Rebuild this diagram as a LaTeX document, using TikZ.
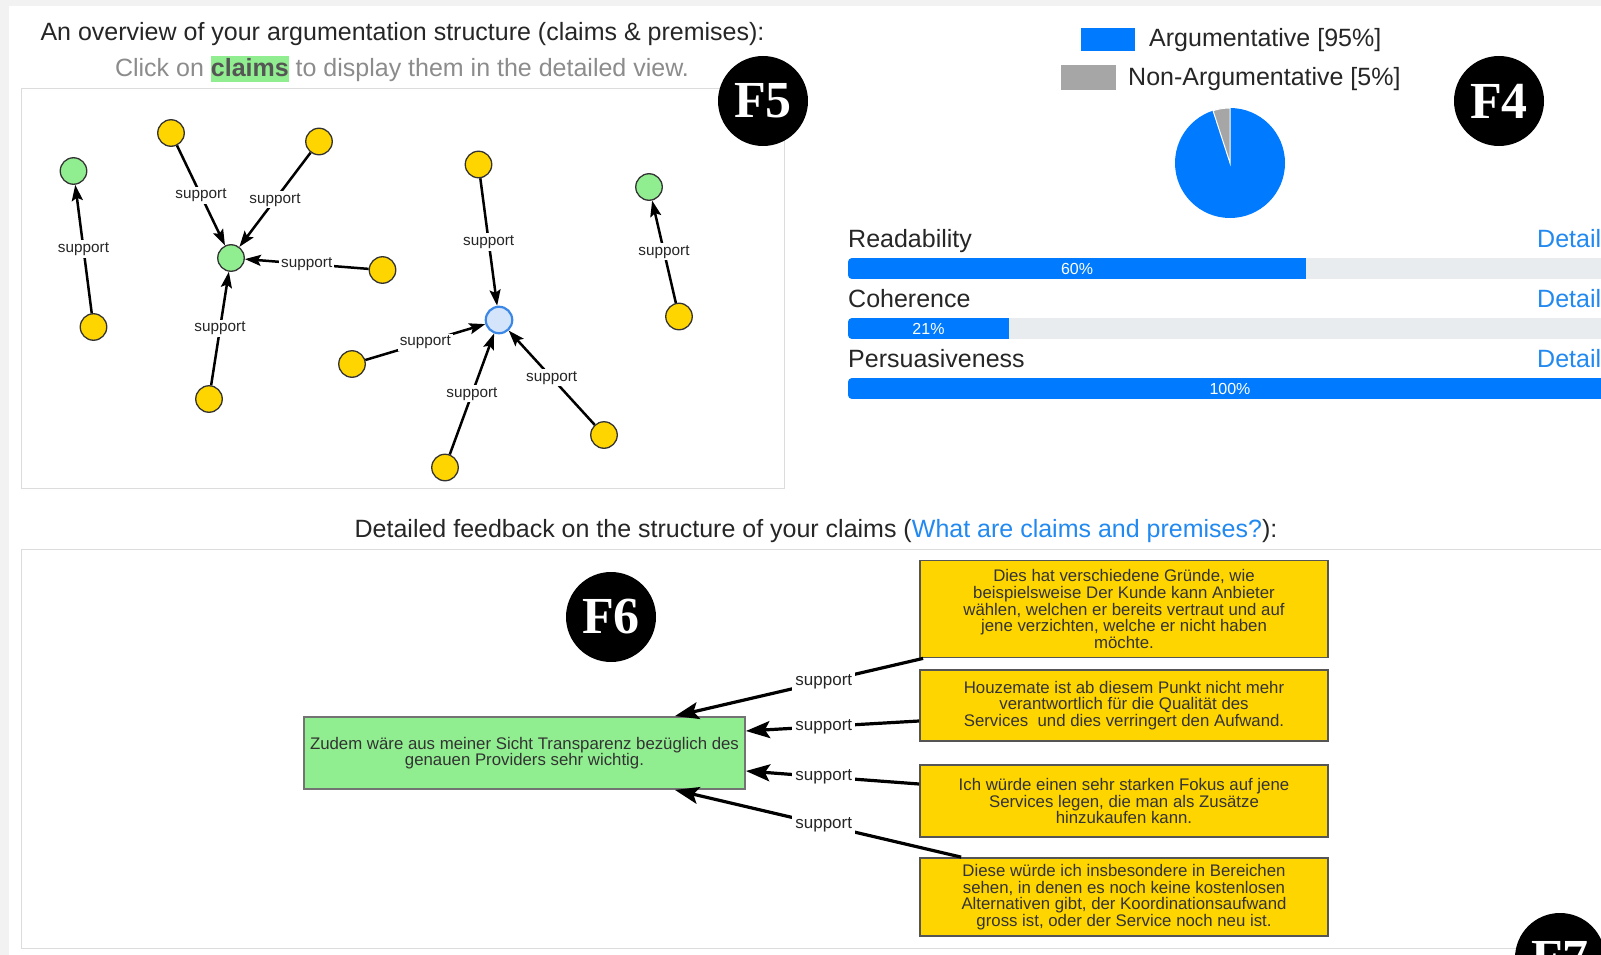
\documentclass[tikz,border=0pt]{standalone}
\usepackage{fontspec}
\setmainfont{Liberation Sans}
\newfontfamily\badgefont{Liberation Serif}
\usetikzlibrary{arrows.meta}

\definecolor{pagegray}{HTML}{F2F2F2}
\definecolor{framegray}{HTML}{DCDCDC}
\definecolor{claimgreen}{HTML}{90EE90}
\definecolor{premisegold}{HTML}{FFD500}
\definecolor{barblue}{HTML}{007BFF}
\definecolor{linkblue}{HTML}{2189F0}
\definecolor{trackgray}{HTML}{E9ECEF}
\definecolor{textdark}{HTML}{262626}
\definecolor{mutedgray}{HTML}{8C8C8C}
\definecolor{focusfill}{HTML}{D4E5FB}
\definecolor{focusedge}{HTML}{3B87E6}
\definecolor{slicegray}{HTML}{A6A6A6}
\definecolor{boxedge}{HTML}{555555}
\definecolor{boxtext}{HTML}{333333}

\begin{document}
\begin{tikzpicture}[x=1pt,y=-1pt,
  heading/.style={anchor=base, inner sep=0pt, text=textdark, font=\fontsize{25}{30}\selectfont},
  badge/.style={circle, fill=black, minimum size=90pt, inner sep=0pt, text=white,
    font=\badgefont\bfseries\fontsize{52}{52}\selectfont},
  premise/.style={circle, draw=black!80, line width=1.3pt, fill=premisegold,
    minimum size=26.5pt, inner sep=0pt},
  claim/.style={premise, fill=claimgreen},
  focus/.style={premise, draw=focusedge, line width=2.2pt, fill=focusfill},
  link/.style={draw=black, line width=2.5pt, -{Stealth[length=16pt,width=11pt,inset=3pt]}},
  linklabel/.style={fill=white, inner sep=2pt, text=textdark, font=\fontsize{15.3}{16}\selectfont},
  reason/.style={rectangle, draw=boxedge, line width=1.8pt, fill=premisegold, text=boxtext,
    align=center, minimum width=408pt, inner sep=0pt, font=\fontsize{16.8}{16.6}\selectfont},
  thesis/.style={reason, fill=claimgreen, draw=black!55, minimum width=441pt, minimum height=72pt},
  bigarrow/.style={draw=black, line width=3.2pt, -{Stealth[length=24pt,width=17pt,inset=5pt]}},
  biglabel/.style={fill=white, inner sep=3pt, text=textdark, font=\fontsize{17}{18}\selectfont},
  keybox/.style={inner sep=0pt, minimum height=24pt},
  pct/.style={text=white, inner sep=0pt, font=\fontsize{16}{16}\selectfont},
]
\useasboundingbox (0,0) rectangle (1601,955);
\clip (0,0) rectangle (1601,955);

% page and panels
\fill[pagegray] (0,0) rectangle (1601,955);
\fill[white] (9,6) rectangle (1601,955);
\draw[framegray, line width=1pt] (21,89) rectangle (784,488);
\draw[framegray, line width=1pt] (21,549) rectangle (1640,948);

% headings
\node[heading] (title) at (402.5,40.5) {An overview of your argumentation structure (claims \& premises):};
\node[heading, text=mutedgray] (hint) at (402,77) {Click on {\setlength{\fboxsep}{0pt}\colorbox{claimgreen}{\rule[-5pt]{0pt}{26pt}\textcolor{boxedge}{\bfseries claims}}} to display them in the detailed view.};
\node[heading] (detail) at (816,537) {Detailed feedback on the structure of your claims (\textcolor{linkblue}{What are claims and premises?}):};

% legend and pie chart
\node[keybox, fill=barblue, minimum width=54pt, minimum height=23pt] (argkey) at (1108,40) {};
\node[heading, anchor=base west] (argtext) at (1149,47) {Argumentative [95\%]};
\node[keybox, fill=slicegray, minimum width=55pt, minimum height=25pt] (nonkey) at (1088.5,78) {};
\node[heading, anchor=base west] (nontext) at (1128,86) {Non-Argumentative [5\%]};
\node[circle, fill=barblue, minimum size=110pt, inner sep=0pt] (pie) at (1230,163) {};
\filldraw[fill=slicegray, draw=white, line width=1pt] (pie.center) -- plot[domain=90:108, samples=12] ({1230+55*cos(\x)}, {163-55*sin(\x)}) -- cycle;

% score bars
\foreach \name/\base/\fillto/\pctx/\pctval in {Readability/247.5/1306/1077/60, Coherence/307.5/1009/928.5/21, Persuasiveness/367.5/1613/1230/100} {
  \node[heading, anchor=base west] at (848,\base) {\name};
  \node[heading, anchor=base west, text=linkblue] at (1537,\base) {Details};
  \begin{scope}
    \clip[rounded corners=4pt] (848,\base+10.5) rectangle (1613,\base+31.5);
    \fill[trackgray] (848,\base+10.5) rectangle (1613,\base+31.5);
    \fill[barblue] (848,\base+10.5) rectangle (\fillto,\base+31.5);
  \end{scope}
  \node[pct] at (\pctx,\base+21) {\pctval\%};
}

% overview graph
\node[claim] (c1) at (73.5,171) {};
\node[claim] (c2) at (231,258) {};
\node[claim] (c3) at (649,187) {};
\node[focus] (c4) at (499,320) {};
\node[premise] (p1) at (93.5,327) {};
\node[premise] (p2) at (171,133) {};
\node[premise] (p3) at (319,141.5) {};
\node[premise] (p4) at (382.5,270) {};
\node[premise] (p5) at (209,399) {};
\node[premise] (p6) at (478.5,164.5) {};
\node[premise] (p7) at (352,364) {};
\node[premise] (p8) at (445,467.5) {};
\node[premise] (p9) at (604,435) {};
\node[premise] (p10) at (679,316.5) {};
\foreach \s/\t in {p1/c1, p2/c2, p3/c2, p4/c2, p5/c2, p6/c4, p7/c4, p8/c4, p9/c4, p10/c3}
  \draw[link] (\s) -- node[linklabel] {support} (\t);

% detailed claim view
\node[thesis] (claim) at (524.5,753) {Zudem wäre aus meiner Sicht Transparenz bezüglich des\\genauen Providers sehr wichtig.};
\node[reason, minimum height=97pt] (r1) at (1124,609) {Dies hat verschiedene Gründe, wie\\beispielsweise Der Kunde kann Anbieter\\wählen, welchen er bereits vertraut und auf\\jene verzichten, welche er nicht haben\\möchte.};
\node[reason, minimum height=71pt] (r2) at (1124,705.5) {Houzemate ist ab diesem Punkt nicht mehr\\verantwortlich für die Qualität des\\Services\ \ und dies verringert den Aufwand.};
\node[reason, minimum height=72pt] (r3) at (1124,801) {Ich würde einen sehr starken Fokus auf jene\\Services legen, die man als Zusätze\\hinzukaufen kann.};
\node[reason, minimum height=78pt] (r4) at (1124,897) {Diese würde ich insbesondere in Bereichen\\sehen, in denen es noch keine kostenlosen\\Alternativen gibt, der Koordinationsaufwand\\gross ist, oder der Service noch neu ist.};

\draw[bigarrow] ([xshift=4pt]r1.south west) -- node[biglabel, pos=0.4] {support} ([xshift=-71pt]claim.north east);
\draw[bigarrow] ([yshift=-15.5pt]r2.west) -- node[biglabel, pos=0.55] {support} ([yshift=22pt]claim.east);
\draw[bigarrow] ([yshift=17pt]r3.west) -- node[biglabel, pos=0.55] {support} ([yshift=-18pt]claim.east);
\draw[bigarrow] ([xshift=42pt]r4.north west) -- node[biglabel, pos=0.48] {support} ([xshift=-71pt]claim.south east);

% section badges
\node[badge] (f5) at (763,101) {F5};
\node[badge] (f4) at (1499,101) {F4};
\node[badge] (f6) at (611,617) {F6};
\node[badge] (f7) at (1560,958) {F7};
\end{tikzpicture}
\end{document}
